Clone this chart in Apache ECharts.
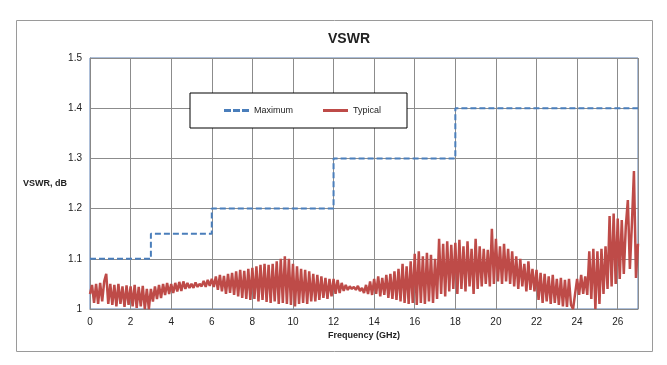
<!DOCTYPE html>
<html><head><meta charset="utf-8">
<script src="https://cdn.jsdelivr.net/npm/echarts@6/dist/echarts.min.js"></script>
<style>html,body{margin:0;padding:0;background:#fff}#c{width:667px;height:365px}</style>
</head><body><div id="c"></div>
<script>
// Maximum VSWR (step limit)
var maxFreq = [0, 3, 3, 6, 6, 12, 12, 18, 18, 27];
var maxVals = [1.1, 1.1, 1.15, 1.15, 1.2, 1.2, 1.3, 1.3, 1.4, 1.4];
var typStart = 0, typStep = 0.1;
var typVals = [
 1.03,1.048,1.012,1.05,1.01,1.052,1.015,1.055,1.07,1.01,
 1.05,1.008,1.048,1.005,1.05,1.01,1.045,1.004,1.047,1.008,
 1.045,1.005,1.048,1.002,1.044,1.005,1.046,1.0,1.04,1.0,
 1.04,1.015,1.045,1.02,1.048,1.022,1.05,1.028,1.052,1.03,
 1.05,1.032,1.052,1.035,1.054,1.036,1.055,1.04,1.052,1.042,
 1.05,1.042,1.053,1.044,1.05,1.045,1.056,1.044,1.058,1.046,
 1.06,1.044,1.065,1.038,1.068,1.035,1.066,1.03,1.07,1.032,
 1.072,1.028,1.075,1.025,1.078,1.022,1.076,1.02,1.08,1.018,
 1.082,1.02,1.085,1.015,1.088,1.018,1.09,1.014,1.088,1.012,
 1.09,1.015,1.095,1.01,1.1,1.012,1.105,1.01,1.1,1.008,
 1.09,1.005,1.085,1.01,1.08,1.012,1.078,1.01,1.075,1.015,
 1.07,1.015,1.068,1.018,1.065,1.022,1.062,1.02,1.06,1.025,
 1.06,1.03,1.058,1.032,1.052,1.036,1.048,1.038,1.045,1.04,
 1.044,1.038,1.046,1.036,1.042,1.032,1.048,1.03,1.055,1.028,
 1.06,1.03,1.065,1.025,1.062,1.028,1.068,1.022,1.07,1.02,
 1.075,1.018,1.08,1.015,1.09,1.012,1.085,1.01,1.095,1.012,
 1.11,1.008,1.115,1.012,1.105,1.01,1.112,1.015,1.108,1.012,
 1.1,1.02,1.14,1.03,1.13,1.025,1.135,1.035,1.128,1.04,
 1.132,1.03,1.138,1.04,1.125,1.035,1.135,1.045,1.12,1.03,
 1.14,1.04,1.125,1.045,1.12,1.05,1.118,1.045,1.16,1.05,
 1.14,1.055,1.125,1.05,1.13,1.055,1.12,1.05,1.115,1.045,
 1.105,1.04,1.1,1.045,1.09,1.035,1.095,1.038,1.08,1.035,
 1.078,1.018,1.072,1.012,1.07,1.015,1.065,1.01,1.068,1.012,
 1.06,1.008,1.062,1.005,1.058,1.004,1.06,1.008,1.0,1.03,
 1.06,1.028,1.068,1.03,1.065,1.028,1.115,1.02,1.12,1.0,
 1.115,1.01,1.12,1.03,1.125,1.04,1.185,1.045,1.19,1.05,
 1.18,1.06,1.177,1.07,1.165,1.217,1.08,1.17,1.275,1.062,
 1.13
];
var xTicks = [0, 2, 4, 6, 8, 10, 12, 14, 16, 18, 20, 22, 24, 26];
var yMin = 1.0, yMax = 1.5, yStep = 0.1;

var maxData = maxFreq.map(function (f, i) { return [f, maxVals[i]]; });
var typData = typVals.map(function (v, i) { return [+(typStart + i * typStep).toFixed(2), v]; });

var chart = echarts.init(document.getElementById('c'));
var font = 'Liberation Sans, Arial, sans-serif';
chart.setOption({
  animation: false,
  backgroundColor: '#fff',
  graphic: [{ type: 'rect', shape: { x: 16.5, y: 20.5, width: 636, height: 331 }, style: { fill: 'none', stroke: '#9a9a9a', lineWidth: 1 }, z: -1 }],
  title: { text: 'VSWR', left: 323, top: 27, textStyle: { fontFamily: font, fontSize: 14, fontWeight: 'bold', color: '#222' } },
  legend: {
    left: 190, top: 93, padding: [12, 26, 12, 34], itemGap: 30, itemWidth: 25, itemHeight: 3,
    backgroundColor: '#fff', borderColor: '#000', borderWidth: 1, borderRadius: 0,
    itemStyle: { borderWidth: 0 },
    textStyle: { fontFamily: font, fontSize: 9, color: '#222', lineHeight: 11 },
    data: [
      { name: 'Maximum', icon: 'path://M0,0h7v3h-7z M9,0h7v3h-7z M18,0h7v3h-7z' },
      { name: 'Typical', icon: 'rect' }
    ]
  },
  grid: { left: 90, top: 58, right: 29, bottom: 56, show: true, borderColor: '#5b7fb3', borderWidth: 1 },
  xAxis: {
    type: 'value', min: 0, max: 27, interval: 2,
    name: 'Frequency (GHz)', nameLocation: 'middle', nameGap: 22, nameMoveOverlap: false,
    nameTextStyle: { fontFamily: font, fontSize: 9, fontWeight: 'bold', color: '#222' },
    axisLine: { show: true, lineStyle: { color: '#888' } },
    axisTick: { show: false },
    axisLabel: { fontFamily: font, fontSize: 10, color: '#222', margin: 8, showMaxLabel: false,
      formatter: function (v) { return xTicks.indexOf(v) >= 0 ? String(v) : ''; } },
    splitLine: { show: true, lineStyle: { color: '#8c8c8c' } }
  },
  yAxis: {
    type: 'value', min: yMin, max: yMax, interval: yStep,
    name: 'VSWR, dB', nameLocation: 'middle', nameRotate: 0, nameGap: 23, nameMoveOverlap: false,
    nameTextStyle: { fontFamily: font, fontSize: 9, fontWeight: 'bold', color: '#222', align: 'right' },
    axisLine: { show: true, lineStyle: { color: '#888' } },
    axisTick: { show: false },
    axisLabel: { fontFamily: font, fontSize: 10, color: '#222', margin: 8,
      formatter: function (v) { return String(+v.toFixed(2)); } },
    splitLine: { show: true, lineStyle: { color: '#8c8c8c' } }
  },
  series: [
    { name: 'Maximum', type: 'line', data: maxData, symbol: 'none', z: 3,
      itemStyle: { color: '#4a7ebb' },
      lineStyle: { color: '#4a7ebb', width: 2, type: [6, 3] } },
    { name: 'Typical', type: 'line', data: typData, symbol: 'none', z: 2,
      itemStyle: { color: '#be4b48' },
      lineStyle: { color: '#be4b48', width: 2.5 } }
  ]
});
</script></body></html>
